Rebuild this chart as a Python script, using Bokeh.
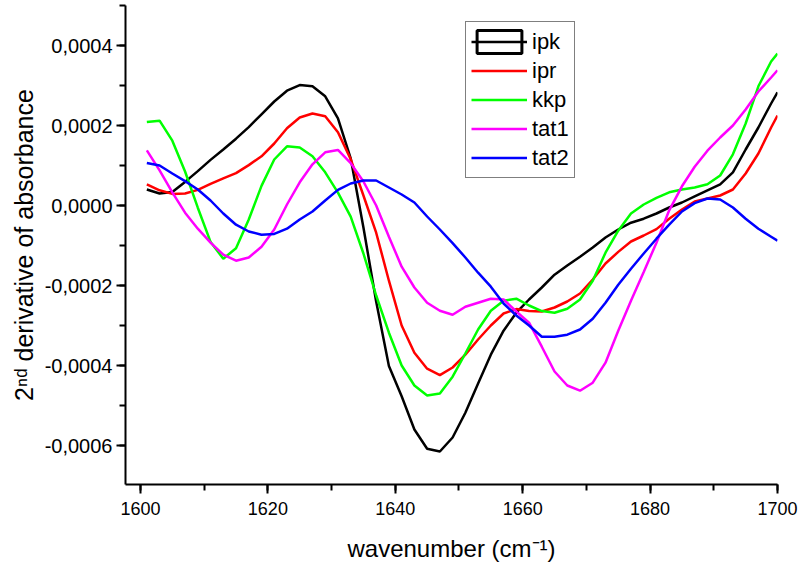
from bokeh.plotting import figure
from bokeh.models import (Range1d, SingleIntervalTicker, CustomJSTickFormatter,
                          Legend, LegendItem, ColumnDataSource)
from bokeh.embed import file_html
from bokeh.resources import INLINE

# ---------------- data ----------------
wavenumber = [1601, 1603, 1605, 1607, 1609, 1611, 1613, 1615, 1617, 1619,
              1621, 1623, 1625, 1627, 1629, 1631, 1633, 1635, 1637, 1639,
              1641, 1643, 1645, 1647, 1649, 1651, 1653, 1655, 1657, 1659,
              1661, 1663, 1665, 1667, 1669, 1671, 1673, 1675, 1677, 1679,
              1681, 1683, 1685, 1687, 1689, 1691, 1693, 1695, 1697, 1699,
              1700]

ipk = [4.0e-5, 3.0e-5, 3.4e-5, 5.9e-5, 8.6e-5, 1.14e-4, 1.40e-4, 1.67e-4, 1.96e-4, 2.28e-4,
       2.60e-4, 2.87e-4, 3.01e-4, 2.98e-4, 2.73e-4, 2.18e-4, 1.18e-4, -5.5e-5, -2.40e-4, -4.01e-4,
       -4.77e-4, -5.60e-4, -6.08e-4, -6.15e-4, -5.80e-4, -5.18e-4, -4.45e-4, -3.73e-4, -3.13e-4, -2.68e-4,
       -2.35e-4, -2.05e-4, -1.73e-4, -1.50e-4, -1.28e-4, -1.05e-4, -8.0e-5, -6.0e-5, -4.3e-5, -3.3e-5,
       -2.0e-5, -5.0e-6, 7.5e-6, 2.3e-5, 3.8e-5, 5.3e-5, 8.3e-5, 1.40e-4, 1.95e-4, 2.55e-4,
       2.83e-4]

ipr = [5.3e-5, 3.8e-5, 2.9e-5, 3.0e-5, 3.9e-5, 5.4e-5, 6.8e-5, 8.1e-5, 1.01e-4, 1.23e-4,
       1.55e-4, 1.93e-4, 2.20e-4, 2.30e-4, 2.23e-4, 1.83e-4, 1.16e-4, 2.5e-5, -6.8e-5, -1.88e-4,
       -3.00e-4, -3.68e-4, -4.08e-4, -4.24e-4, -4.05e-4, -3.73e-4, -3.35e-4, -3.00e-4, -2.70e-4, -2.59e-4,
       -2.64e-4, -2.65e-4, -2.55e-4, -2.40e-4, -2.20e-4, -1.85e-4, -1.45e-4, -1.16e-4, -9.0e-5, -7.5e-5,
       -5.9e-5, -3.3e-5, -1.0e-5, 1.0e-5, 1.75e-5, 2.5e-5, 4.0e-5, 8.0e-5, 1.30e-4, 1.95e-4,
       2.25e-4]

kkp = [2.09e-4, 2.12e-4, 1.62e-4, 8.5e-5, -5.5e-6, -9.1e-5, -1.33e-4, -1.07e-4, -3.5e-5, 4.9e-5,
       1.15e-4, 1.48e-4, 1.45e-4, 1.23e-4, 8.3e-5, 3.2e-5, -2.8e-5, -1.20e-4, -2.25e-4, -3.18e-4,
       -4.00e-4, -4.50e-4, -4.75e-4, -4.70e-4, -4.28e-4, -3.70e-4, -3.10e-4, -2.63e-4, -2.38e-4, -2.33e-4,
       -2.50e-4, -2.64e-4, -2.68e-4, -2.58e-4, -2.35e-4, -1.88e-4, -1.18e-4, -6.3e-5, -2.0e-5, 2.5e-6,
       1.9e-5, 3.3e-5, 4.0e-5, 4.5e-5, 5.3e-5, 7.5e-5, 1.28e-4, 2.05e-4, 2.98e-4, 3.60e-4,
       3.80e-4]

tat1 = [1.38e-4, 8.8e-5, 3.3e-5, -1.8e-5, -5.8e-5, -9.3e-5, -1.23e-4, -1.38e-4, -1.30e-4, -1.03e-4,
        -6.0e-5, 2.5e-6, 5.8e-5, 1.03e-4, 1.33e-4, 1.39e-4, 1.06e-4, 6.0e-5, 0.0, -7.8e-5,
        -1.53e-4, -2.05e-4, -2.43e-4, -2.63e-4, -2.73e-4, -2.53e-4, -2.43e-4, -2.33e-4, -2.35e-4, -2.65e-4,
        -2.93e-4, -3.53e-4, -4.15e-4, -4.50e-4, -4.63e-4, -4.43e-4, -3.93e-4, -3.13e-4, -2.38e-4, -1.66e-4,
        -9.3e-5, -1.2e-5, 4.8e-5, 9.7e-5, 1.37e-4, 1.70e-4, 2.00e-4, 2.40e-4, 2.85e-4, 3.20e-4,
        3.38e-4]

tat2 = [1.06e-4, 1.00e-4, 8.0e-5, 6.1e-5, 4.0e-5, 1.25e-5, -2.0e-5, -4.8e-5, -6.5e-5, -7.3e-5,
        -7.1e-5, -5.8e-5, -3.5e-5, -1.5e-5, 1.25e-5, 3.9e-5, 5.5e-5, 6.25e-5, 6.25e-5, 4.5e-5,
        2.75e-5, 7.5e-6, -2.75e-5, -6.0e-5, -9.4e-5, -1.30e-4, -1.68e-4, -2.03e-4, -2.45e-4, -2.75e-4,
        -3.00e-4, -3.28e-4, -3.28e-4, -3.23e-4, -3.10e-4, -2.83e-4, -2.43e-4, -1.98e-4, -1.58e-4, -1.20e-4,
        -8.3e-5, -4.8e-5, -1.5e-5, 6.0e-6, 1.75e-5, 1.5e-5, -5.0e-6, -3.3e-5, -5.8e-5, -7.8e-5,
        -8.8e-5]

series_names = ["ipk", "ipr", "kkp", "tat1", "tat2"]
series_values = [ipk, ipr, kkp, tat1, tat2]
series_colors = ["#000000", "#ff0000", "#00ff00", "#ff00ff", "#0000ff"]

x_label = "wavenumber (cm\u207b\u00b9)"
y_label = "2\u207f\u1d48 derivative of absorbance"

# ---------------- figure ----------------
FONT = "Liberation Sans"
p = figure(width=800, height=569, output_backend="svg", toolbar_location=None,
           x_range=Range1d(1597.65, 1700), y_range=Range1d(-0.0006975, 0.0005),
           min_border_left=125, min_border_right=23, min_border_top=5,
           min_border_bottom=85)
p.outline_line_color = None
p.grid.visible = False
p.background_fill_color = "white"
p.border_fill_color = "white"

renderers = []
for name, vals, col in zip(series_names, series_values, series_colors):
    src = ColumnDataSource(dict(x=wavenumber, y=vals))
    r = p.line("x", "y", source=src, line_color=col, line_width=2.5)
    renderers.append(r)

# thick box drawn around the first legend symbol in the reference
# (hidden in the plot itself, only its legend swatch is shown)
box = p.quad(left=wavenumber[:1], right=wavenumber[:1], bottom=ipk[:1], top=ipk[:1],
             fill_color=None, line_color="black", line_width=3)
box.visible = False

# axes
xa = p.xaxis[0]
ya = p.yaxis[0]
xa.ticker = SingleIntervalTicker(interval=20, num_minor_ticks=2)
ya.ticker = SingleIntervalTicker(interval=0.0002, num_minor_ticks=2)
ya.formatter = CustomJSTickFormatter(code="""
    if (Math.abs(tick) < 1e-12) { return '0,0000'; }
    return tick.toFixed(4).replace('.', ',');
""")
for ax in (xa, ya):
    ax.axis_line_width = 2
    ax.axis_line_color = "black"
    ax.major_tick_line_width = 2
    ax.minor_tick_line_width = 2
    ax.major_tick_line_color = "black"
    ax.minor_tick_line_color = "black"
    ax.major_tick_in = 0
    ax.minor_tick_in = 0
    ax.major_tick_out = 9
    ax.minor_tick_out = 6
    ax.major_label_text_font = FONT
    ax.major_label_text_color = "black"
    ax.axis_label_text_font = FONT
    ax.axis_label_text_font_style = "normal"
    ax.axis_label_text_color = "black"

xa.major_label_text_font_size = "18px"
xa.major_label_standoff = 8
xa.axis_label = x_label
xa.axis_label_text_font_size = "24px"
xa.axis_label_standoff = 17

ya.major_label_text_font_size = "20px"
ya.major_label_standoff = 4
ya.axis_label = y_label
ya.axis_label_text_font_size = "25px"
ya.axis_label_standoff = 4

# legend
items = []
for i, (name, r) in enumerate(zip(series_names, renderers)):
    rs = [r, box] if i == 0 else [r]
    items.append(LegendItem(label=name, renderers=rs))
legend = Legend(items=items, location=(340, 306))
legend.label_text_font = FONT
legend.label_text_font_size = "22px"
legend.label_text_color = "black"
legend.glyph_width = 56
legend.glyph_height = 29
legend.label_height = 29
legend.label_standoff = 5
legend.spacing = 0
legend.padding = 5
legend.margin = 0
legend.border_line_color = "black"
legend.border_line_width = 1
legend.background_fill_color = "white"
legend.background_fill_alpha = 1.0
p.add_layout(legend)

open("out.html", "w").write(file_html(p, INLINE))
